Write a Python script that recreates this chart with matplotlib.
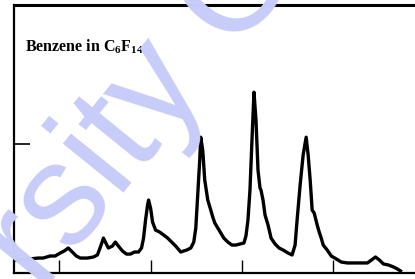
import matplotlib
matplotlib.use('Agg')
import matplotlib.pyplot as plt

plt.rcParams['mathtext.fontset'] = 'custom'
plt.rcParams['mathtext.rm'] = 'Liberation Serif:bold'
plt.rcParams['mathtext.it'] = 'Liberation Serif:bold'
plt.rcParams['mathtext.bf'] = 'Liberation Serif:bold'

# spectrum (x in arbitrary units, tick every 10)
x = [-4.95, -4.07, -3.19, -2.31, -1.76, -0.99, -0.44, 0.11, 0.55, 0.99,
     1.43, 1.87, 2.31, 3.08, 3.74, 4.18, 4.51, 4.84, 5.16, 5.38,
     5.82, 6.15, 6.48, 6.92, 7.36, 7.80, 8.24, 8.68, 9.01, 9.23,
     9.45, 9.67, 9.78, 10.00, 10.22, 10.55, 10.99, 11.43, 11.87, 12.31,
     12.75, 13.30, 13.63, 13.96, 14.40, 14.73, 14.95, 15.16, 15.38, 15.49,
     15.71, 15.93, 16.26, 16.59, 16.81, 17.03, 17.36, 17.69, 18.02, 18.46,
     18.90, 19.34, 19.78, 20.22, 20.44, 20.66, 20.88, 21.10, 21.32, 21.54,
     21.76, 21.98, 22.09, 22.31, 22.53, 22.86, 23.19, 23.63, 24.07, 24.51,
     25.05, 25.49, 25.82, 26.04, 26.37, 26.70, 27.03, 27.25, 27.47, 27.69,
     27.91, 28.24, 28.46, 28.68, 28.90, 29.34, 29.78, 30.33, 30.88, 31.54,
     32.20, 32.97, 33.74, 34.18, 34.62, 35.05, 35.49, 36.04, 36.59, 37.03,
     37.36]
y = [0.101, 0.101, 0.109, 0.116, 0.116, 0.132, 0.132, 0.155, 0.171, 0.194,
     0.163, 0.132, 0.116, 0.116, 0.124, 0.140, 0.202, 0.271, 0.225, 0.194,
     0.209, 0.240, 0.209, 0.171, 0.147, 0.147, 0.163, 0.163, 0.194, 0.271,
     0.411, 0.527, 0.566, 0.504, 0.395, 0.333, 0.318, 0.295, 0.271, 0.240,
     0.209, 0.163, 0.171, 0.178, 0.194, 0.240, 0.349, 0.605, 0.876, 1.054,
     0.953, 0.721, 0.566, 0.488, 0.434, 0.388, 0.349, 0.310, 0.271, 0.240,
     0.217, 0.217, 0.225, 0.233, 0.287, 0.411, 0.643, 1.031, 1.403, 1.186,
     0.798, 0.659, 0.643, 0.566, 0.450, 0.372, 0.271, 0.225, 0.194, 0.178,
     0.155, 0.140, 0.217, 0.411, 0.682, 0.915, 1.054, 0.915, 0.721, 0.488,
     0.465, 0.372, 0.318, 0.271, 0.217, 0.178, 0.132, 0.109, 0.085, 0.078,
     0.078, 0.078, 0.078, 0.101, 0.124, 0.101, 0.070, 0.062, 0.047, 0.031,
     0.016]
xticks = [0, 10, 20, 30]
yticks = [1.0]

fig = plt.figure(figsize=(4.15, 2.79), dpi=100)

# watermark from the scan, behind everything
fig.text(0.35, 0.62, 'rsity O', fontsize=105, color='#c8ccf8', rotation=51,
         ha='center', va='center', family='Liberation Sans', zorder=0)

ax = fig.add_axes([14 / 415, 6 / 279, 1 - 14 / 415 + 0.01, 268 / 279])
ax.patch.set_alpha(0)

ax.plot(x, y, color='black', lw=2.4, solid_joinstyle='round')
ax.set_xlim(-4.95, 39.4)
ax.set_ylim(0, 2.08)

ax.set_xticks(xticks)
ax.set_yticks(yticks)
ax.tick_params(axis='x', direction='in', length=9.5, width=1.0, labelbottom=False)
ax.tick_params(axis='y', direction='in', length=11.5, width=1.2, labelleft=False)
ax.spines['right'].set_visible(False)
for s in ['left', 'bottom']:
    ax.spines[s].set_linewidth(1.6)
ax.spines['top'].set_linewidth(2.2)

ax.text(0.028, 0.845, 'Benzene in C$_6$F$_{14}$', transform=ax.transAxes,
        fontsize=11.5, family='Liberation Serif', fontweight='bold',
        ha='left', va='center')

fig.savefig('out.png', dpi=100)
